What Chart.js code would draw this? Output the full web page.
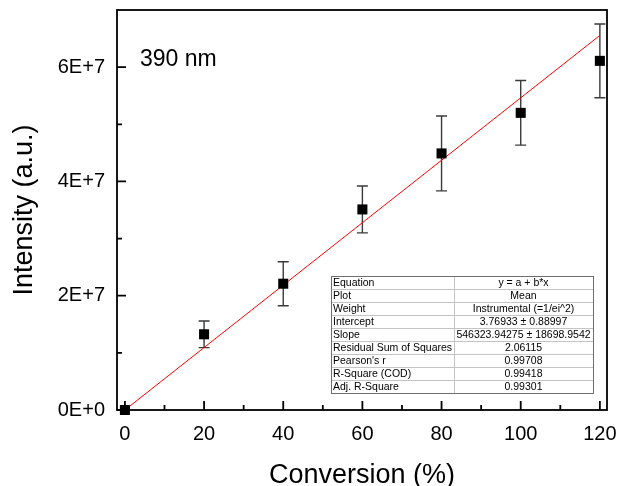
<!DOCTYPE html>
<html>
<head>
<meta charset="utf-8">
<script src="https://cdn.jsdelivr.net/npm/chart.js@4.4.0/dist/chart.umd.min.js"></script>
<style>
  html, body { margin: 0; padding: 0; background: #fff; }
  #wrap { width: 621px; height: 486px; }
</style>
</head>
<body>
<div id="wrap"><canvas id="chart" width="621" height="486"></canvas></div>
<script>
// measured points (conversion %, intensity) with error half-widths
const conversion = [0, 20, 40, 60, 80, 100, 120];
const intensity = [0, 1.325e7, 2.21e7, 3.51e7, 4.49e7, 5.20e7, 6.11e7];
const intensityErr = [0, 0.233e7, 0.385e7, 0.41e7, 0.655e7, 0.565e7, 0.645e7];

// linear fit end points
const fitX = [0, 120];
const fitY = [3.76933, 6.5559e7];

// tick positions
const xMajorTicks = [0, 20, 40, 60, 80, 100, 120];
const xMinorTicks = [10, 30, 50, 70, 90, 110];
const yMajorTicks = [0, 2e7, 4e7, 6e7];
const yMinorTicks = [1e7, 3e7, 5e7];

// fit report table
const tableLabels = ['Equation', 'Plot', 'Weight', 'Intercept', 'Slope',
    'Residual Sum of Squares', "Pearson's r", 'R-Square (COD)', 'Adj. R-Square'];
const tableValues = ['y = a + b*x', 'Mean', 'Instrumental (=1/ei^2)', '3.76933 \u00b1 0.88997',
    '546323.94275 \u00b1 18698.9542', '2.06115', '0.99708', '0.99418', '0.99301'];

const FONT = '"Liberation Sans", Arial, sans-serif';

function sciLabel(v) {
    if (v === 0) return '0E+0';
    const e = Math.floor(Math.log10(Math.abs(v)) + 1e-9);
    const m = Math.round(v / Math.pow(10, e) * 100) / 100;
    return m + 'E+' + e;
}

const extrasPlugin = {
    id: 'extras',
    beforeDatasetsDraw(chart) {
        const { ctx, scales: { x, y } } = chart;
        ctx.save();
        ctx.strokeStyle = '#3a3a3a';
        ctx.lineWidth = 1.4;
        conversion.forEach((c, i) => {
            const err = intensityErr[i];
            if (!err) return;
            const px = x.getPixelForValue(c);
            const top = y.getPixelForValue(intensity[i] + err);
            const bot = y.getPixelForValue(intensity[i] - err);
            ctx.beginPath();
            ctx.moveTo(px, top); ctx.lineTo(px, bot);
            ctx.moveTo(px - 5.5, top); ctx.lineTo(px + 5.5, top);
            ctx.moveTo(px - 5.5, bot); ctx.lineTo(px + 5.5, bot);
            ctx.stroke();
        });
        ctx.restore();
    },
    afterDatasetsDraw(chart) {
        const { ctx, chartArea: a, scales: { x, y } } = chart;
        ctx.save();

        // frame and inward ticks
        ctx.strokeStyle = '#000';
        ctx.lineWidth = 1.8;
        ctx.strokeRect(a.left, a.top, a.right - a.left, a.bottom - a.top);
        ctx.beginPath();
        xMajorTicks.forEach(v => {
            const px = x.getPixelForValue(v);
            ctx.moveTo(px, a.bottom); ctx.lineTo(px, a.bottom - 9);
        });
        xMinorTicks.forEach(v => {
            const px = x.getPixelForValue(v);
            ctx.moveTo(px, a.bottom); ctx.lineTo(px, a.bottom - 5);
        });
        yMajorTicks.forEach(v => {
            const py = y.getPixelForValue(v);
            ctx.moveTo(a.left, py); ctx.lineTo(a.left + 9, py);
        });
        yMinorTicks.forEach(v => {
            const py = y.getPixelForValue(v);
            ctx.moveTo(a.left, py); ctx.lineTo(a.left + 5, py);
        });
        ctx.stroke();

        // wavelength label
        ctx.fillStyle = '#000';
        ctx.font = '23px ' + FONT;
        ctx.textBaseline = 'alphabetic';
        ctx.fillText('390 nm', 140, 66);

        // fit report table
        const tx = 331, ty = 276, tw = 262, rh = 13, split = 454;
        const th = rh * tableLabels.length;
        ctx.fillStyle = '#fff';
        ctx.fillRect(tx, ty, tw, th);
        ctx.strokeStyle = '#c4c4c4';
        ctx.lineWidth = 1;
        ctx.beginPath();
        for (let i = 1; i < tableLabels.length; i++) {
            ctx.moveTo(tx, ty + i * rh + 0.5); ctx.lineTo(tx + tw, ty + i * rh + 0.5);
        }
        ctx.moveTo(split + 0.5, ty); ctx.lineTo(split + 0.5, ty + th);
        ctx.stroke();
        ctx.strokeStyle = '#6e6e6e';
        ctx.strokeRect(tx + 0.5, ty + 0.5, tw, th);

        ctx.fillStyle = '#000';
        ctx.font = '10.5px ' + FONT;
        ctx.textBaseline = 'middle';
        tableLabels.forEach((s, i) => {
            ctx.textAlign = 'left';
            ctx.fillText(s, tx + 2, ty + i * rh + rh / 2 + 1);
            ctx.textAlign = 'center';
            ctx.fillText(tableValues[i], (split + tx + tw) / 2, ty + i * rh + rh / 2 + 1);
        });
        ctx.restore();
    }
};

new Chart(document.getElementById('chart'), {
    type: 'scatter',
    data: {
        datasets: [{
            label: 'Intensity',
            data: conversion.map((c, i) => ({ x: c, y: intensity[i] })),
            pointStyle: 'rect',
            pointRadius: 7.1,
            pointBackgroundColor: '#000',
            pointBorderColor: '#000',
            pointBorderWidth: 0,
            clip: false
        }, {
            label: 'Linear Fit',
            data: fitX.map((c, i) => ({ x: c, y: fitY[i] })),
            showLine: true,
            borderColor: '#ff0000',
            borderWidth: 1,
            pointRadius: 0
        }]
    },
    options: {
        responsive: false,
        animation: false,
        devicePixelRatio: 1,
        layout: { padding: { left: 0, right: 14, top: 10, bottom: 0 } },
        plugins: {
            legend: { display: false },
            tooltip: { enabled: false }
        },
        scales: {
            x: {
                type: 'linear',
                position: 'bottom',
                min: -2,
                max: 121.8,
                grid: { display: false, drawTicks: false },
                border: { display: false },
                ticks: {
                    autoSkip: false,
                    maxRotation: 0,
                    padding: 12,
                    color: '#000',
                    font: { family: FONT, size: 20 }
                },
                afterBuildTicks(s) { s.ticks = xMajorTicks.map(v => ({ value: v })); },
                title: {
                    display: true,
                    text: 'Conversion (%)',
                    color: '#000',
                    font: { family: FONT, size: 27, lineHeight: 0.8 },
                    padding: { top: 0, bottom: 0 }
                },
                afterFit(s) {
                    s.height = 76;
                    s.paddingLeft = 0;
                    s.paddingRight = 0;
                }
            },
            y: {
                type: 'linear',
                min: 0,
                max: 7e7,
                grid: { display: false, drawTicks: false },
                border: { display: false },
                ticks: {
                    autoSkip: false,
                    padding: 12,
                    color: '#000',
                    font: { family: FONT, size: 20 },
                    callback: v => sciLabel(v)
                },
                afterBuildTicks(s) { s.ticks = yMajorTicks.map(v => ({ value: v })); },
                title: {
                    display: true,
                    text: 'Intensity (a.u.)',
                    color: '#000',
                    font: { family: FONT, size: 27, lineHeight: 0.8 },
                    padding: { top: 14, bottom: 0 }
                },
                afterFit(s) {
                    s.width = 117;
                    s.paddingTop = 0;
                    s.paddingBottom = 0;
                }
            }
        }
    },
    plugins: [extrasPlugin]
});
</script>
</body>
</html>
